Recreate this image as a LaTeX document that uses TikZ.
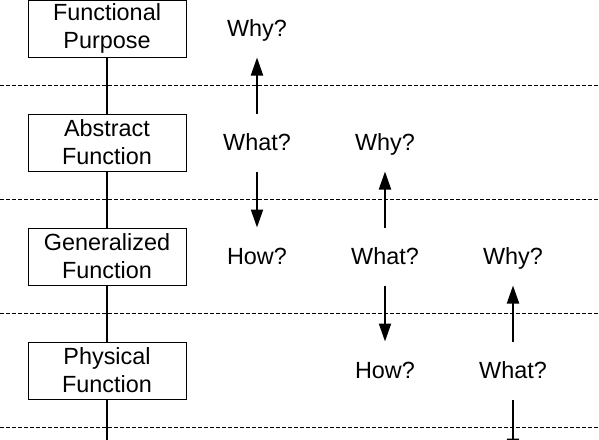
\documentclass[tikz,border=0pt]{standalone}
\usepackage{fontspec}
\setmainfont{Liberation Sans}
\usetikzlibrary{arrows.meta}
\def\rowsep{114}
\def\colsep{128}

\begin{document}
\begin{tikzpicture}[
	x=0.5pt,y=-0.5pt,line width=1pt,>={Triangle[length=9pt,width=6pt]}]
	\tikzstyle{level}=[draw,line width=0.5pt,minimum width=79pt,minimum height=28.5pt,inner sep=0pt,align=center,font=\fontsize{11.7}{14}\selectfont]
	\tikzstyle{question}=[minimum height=28pt,inner sep=0pt,text height=8.4pt,text depth=0pt,font=\fontsize{11.7}{14}\selectfont]
	\tikzstyle{separator}=[line width=0.5pt,dash pattern=on 2pt off 1pt]
	
	\clip (0,0) rectangle (599,439);
	
	% Draw separators
	\foreach \y in {1,...,4}
	\draw[separator] (0,{85.5+\rowsep*(\y-1)}) -- (599,{85.5+\rowsep*(\y-1)});
	
	% Draw level nodes
	\foreach \name / \desc in {1/Functional\\Purpose,2/Abstract\\Function,3/Generalized\\Function,4/Physical\\Function}
	\node[level] (L-\name) at (107,{28.5+\rowsep*(\name-1)}) {\desc};
	\coordinate (L-5) at (107,484.5);
	
	% Draw question nodes
	\foreach \col in {1,...,3} {
		\node[question] (Why-\col) at ({257+\colsep*(\col-1)},{28.5+\rowsep*(\col-1)}) {Why?};
		\node[question] (What-\col) at ({257+\colsep*(\col-1)},{142.5+\rowsep*(\col-1)}) {What?};
	}
	\foreach \col in {1,2}
	\node[question] (How-\col) at ({257+\colsep*(\col-1)},{256.5+\rowsep*(\col-1)}) {How?};
	\coordinate (How-3) at (513,456.5);
	
	% Connect levels
	\foreach \source [evaluate=\source as \dest using int(\source+1)] in {1,...,4}
	\draw (L-\source) -- (L-\dest);
	
	% Connect questions
	\foreach \col in {1,...,3} {
		\draw[->] (What-\col) -- (Why-\col);
		\draw[->] (What-\col.south) -- (How-\col);
	}
\end{tikzpicture}
\end{document}
